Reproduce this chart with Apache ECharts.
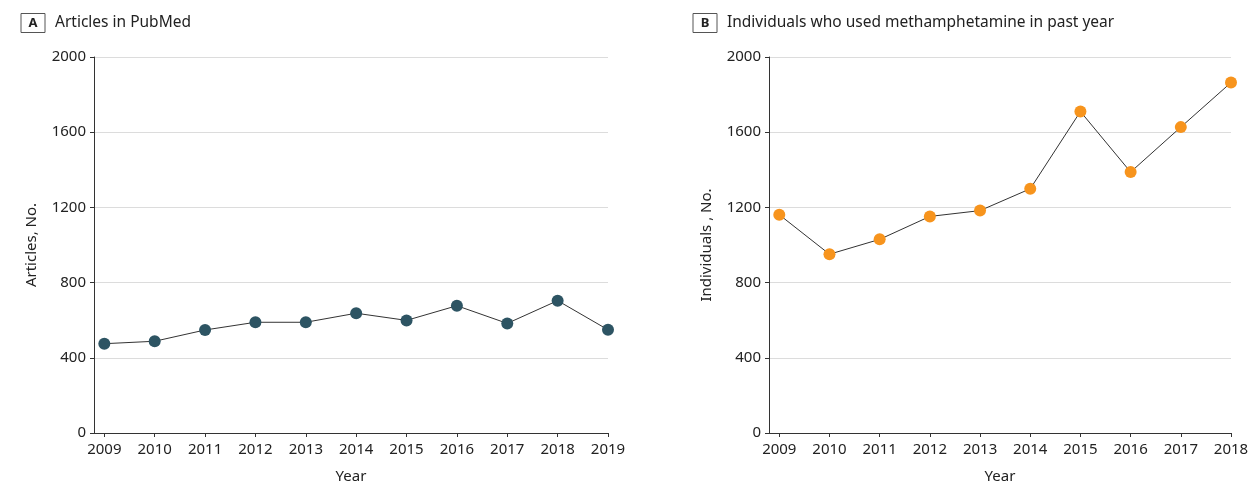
<!DOCTYPE html>
<html>
<head>
<meta charset="utf-8">
<script src="https://cdn.jsdelivr.net/npm/echarts@6/dist/echarts.min.js"></script>
<style>
html,body{margin:0;padding:0;background:#fff;}
#chart{width:1257px;height:502px;}
</style>
</head>
<body>
<div id="chart"></div>
<script>
const yearsA = [2009, 2010, 2011, 2012, 2013, 2014, 2015, 2016, 2017, 2018, 2019];
const articles = [475, 488, 548, 589, 589, 637, 599, 677, 583, 704, 549];
const yearsB = [2009, 2010, 2011, 2012, 2013, 2014, 2015, 2016, 2017, 2018];
const individuals = [1161, 951, 1030, 1152, 1183, 1299, 1710, 1388, 1627, 1864];
const yTicks = [0, 400, 800, 1200, 1600, 2000];

const FONT = 'Noto Sans';
const TXT = '#222';
const pad = 0.205;

function xAxisFor(years, gridIndex) {
  return {
    type: 'value', gridIndex: gridIndex,
    min: years[0] - pad, max: years[years.length - 1],
    name: 'Year', nameLocation: 'middle', nameGap: 36,
    nameTextStyle: {fontFamily: FONT, fontSize: 15, color: TXT},
    axisLine: {show: true, lineStyle: {color: '#333', width: 1}},
    axisTick: {show: true, length: 4, lineStyle: {color: '#333'}, customValues: years},
    axisLabel: {fontFamily: FONT, fontSize: 15, color: TXT, margin: 9, customValues: years,
      formatter: v => String(Math.round(v))},
    splitLine: {show: false}
  };
}
function yAxisFor(name, gridIndex) {
  return {
    type: 'value', gridIndex: gridIndex, min: yTicks[0], max: yTicks[yTicks.length - 1], interval: 400,
    name: name, nameLocation: 'middle', nameGap: 55,
    nameTextStyle: {fontFamily: FONT, fontSize: 15, color: TXT},
    axisLine: {show: true, lineStyle: {color: '#333', width: 1}},
    axisTick: {show: true, length: 4, lineStyle: {color: '#333'}},
    axisLabel: {fontFamily: FONT, fontSize: 15, color: TXT, margin: 8, formatter: v => String(v)},
    splitLine: {show: true, lineStyle: {color: '#dcdcdc', width: 1}}
  };
}
function titleFor(letter, text, left) {
  return {
    text: '{box|' + letter + '}{t|' + text + '}', left: left, top: 12, padding: 0,
    textStyle: {
      fontWeight: 'normal',
      rich: {
        box: {fontFamily: FONT, fontSize: 13, fontWeight: 'bold', color: '#222', lineHeight: 16,
          borderColor: '#555', borderWidth: 1, padding: [3, 7, 3, 7], width: 10, align: 'center'},
        t: {fontFamily: FONT, fontSize: 15.5, fontWeight: 'normal', color: '#222', lineHeight: 22, padding: [0, 0, 0, 10]}
      }
    }
  };
}

const chart = echarts.init(document.getElementById('chart'));
chart.setOption({
  animation: false,
  backgroundColor: '#fff',
  title: [titleFor('A', 'Articles in PubMed', 21), titleFor('B', 'Individuals who used methamphetamine in past year', 693)],
  grid: [
    {left: 94, top: 57, width: 514, height: 376, containLabel: false},
    {left: 769, top: 57, width: 462, height: 376, containLabel: false}
  ],
  xAxis: [xAxisFor(yearsA, 0), xAxisFor(yearsB, 1)],
  yAxis: [yAxisFor('Articles, No.', 0), yAxisFor('Individuals , No.', 1)],
  series: [
    {type: 'line', xAxisIndex: 0, yAxisIndex: 0,
      data: yearsA.map((y, i) => [y, articles[i]]),
      symbol: 'circle', symbolSize: 12,
      lineStyle: {color: '#333', width: 1},
      itemStyle: {color: '#2d5463', borderWidth: 0}},
    {type: 'line', xAxisIndex: 1, yAxisIndex: 1,
      data: yearsB.map((y, i) => [y, individuals[i]]),
      symbol: 'circle', symbolSize: 12,
      lineStyle: {color: '#333', width: 1},
      itemStyle: {color: '#f7941d', borderWidth: 0}}
  ]
});
</script>
</body>
</html>
